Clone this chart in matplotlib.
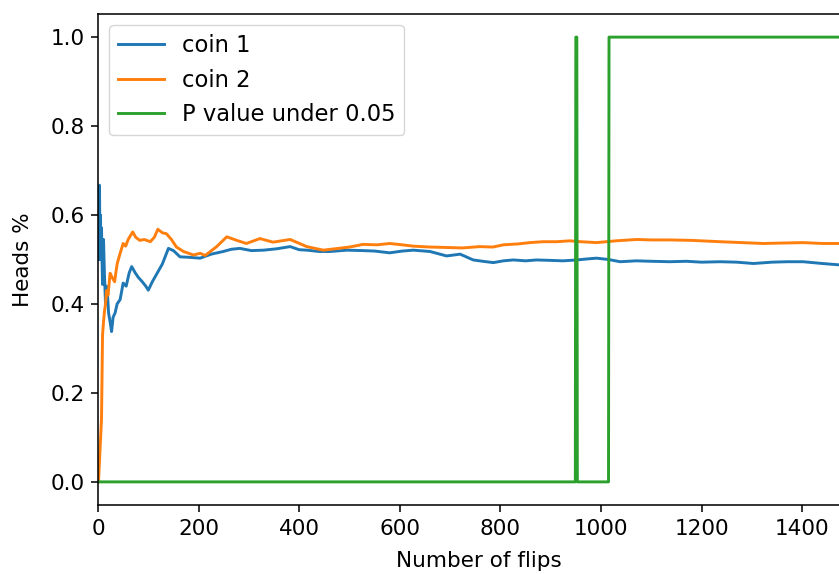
import matplotlib
matplotlib.use('Agg')
import matplotlib.pyplot as plt

# running share of heads
coin1_flips = [2, 3, 4, 5, 6, 7, 8, 9, 10, 11, 12, 13, 15, 17, 19, 21, 24, 27, 30, 34,
               38, 44, 50, 56, 62, 67, 74, 80, 88, 95, 100, 108, 118, 128, 140, 150,
               163, 180, 203, 225, 249, 265, 282, 305, 329, 355, 382, 400, 415, 440,
               461, 495, 527, 550, 580, 605, 627, 660, 693, 720, 746, 765, 786, 806,
               826, 850, 872, 900, 925, 952, 970, 991, 1015, 1038, 1070, 1100, 1137,
               1170, 1200, 1237, 1270, 1303, 1340, 1370, 1402, 1440, 1473, 1500]
coin1_heads = [0.50, 0.667, 0.50, 0.60, 0.50, 0.571, 0.50, 0.444, 0.50, 0.545, 0.50,
               0.46, 0.40, 0.44, 0.42, 0.38, 0.36, 0.338, 0.37, 0.38, 0.40, 0.41,
               0.447, 0.44, 0.47, 0.484, 0.47, 0.46, 0.45, 0.44, 0.431, 0.45, 0.47,
               0.49, 0.525, 0.52, 0.506, 0.505, 0.503, 0.512, 0.518, 0.523, 0.525,
               0.52, 0.521, 0.524, 0.529, 0.522, 0.521, 0.518, 0.518, 0.521, 0.520,
               0.519, 0.515, 0.519, 0.521, 0.518, 0.508, 0.512, 0.499, 0.496, 0.493,
               0.497, 0.499, 0.497, 0.499, 0.498, 0.497, 0.499, 0.501, 0.503, 0.500,
               0.495, 0.497, 0.496, 0.495, 0.496, 0.494, 0.495, 0.494, 0.491, 0.494,
               0.495, 0.495, 0.491, 0.488, 0.487]

coin2_flips = [1, 7, 9, 11, 13, 15, 17, 20, 24, 28, 33, 38, 44, 50, 55, 60, 69, 75, 83,
               92, 104, 112, 119, 128, 136, 146, 156, 170, 190, 203, 213, 236, 256,
               276, 295, 322, 348, 382, 415, 448, 478, 500, 527, 555, 580, 605, 627,
               660, 693, 725, 759, 785, 806, 835, 859, 885, 912, 938, 960, 991, 1030,
               1071, 1100, 1137, 1180, 1237, 1280, 1323, 1360, 1402, 1440, 1473, 1500]
coin2_heads = [0.0, 0.143, 0.33, 0.36, 0.385, 0.40, 0.43, 0.42, 0.469, 0.46, 0.45,
               0.49, 0.514, 0.536, 0.53, 0.545, 0.562, 0.55, 0.543, 0.545, 0.540,
               0.55, 0.568, 0.56, 0.558, 0.545, 0.528, 0.518, 0.51, 0.514, 0.509,
               0.529, 0.551, 0.543, 0.536, 0.547, 0.539, 0.545, 0.529, 0.521, 0.525,
               0.528, 0.534, 0.533, 0.536, 0.533, 0.530, 0.528, 0.527, 0.526, 0.529,
               0.528, 0.533, 0.535, 0.538, 0.540, 0.540, 0.542, 0.540, 0.538, 0.542,
               0.545, 0.544, 0.544, 0.543, 0.540, 0.538, 0.536, 0.537, 0.538, 0.536,
               0.536, 0.535]

# 1 where the p value is under 0.05
p_flips = [0, 949, 950, 952, 953, 1015, 1016, 1500]
p_under = [0, 0, 1, 1, 0, 0, 1, 1]

s = 1.4  # picture is an upscaled notebook figure
plt.rcParams.update({
    'font.size': 15.5,
    'lines.linewidth': 1.5 * s,
    'axes.linewidth': 0.8 * s,
    'xtick.major.size': 3.5 * s,
    'ytick.major.size': 3.5 * s,
    'xtick.major.width': 0.8 * s,
    'ytick.major.width': 0.8 * s,
    'xtick.major.pad': 3.5 * s,
    'ytick.major.pad': 3.5 * s,
})

fig = plt.figure(figsize=(8.39, 5.74), dpi=100)
ax = fig.add_axes([98 / 839, 69 / 574, 762 / 839, 491 / 574])

ax.plot(coin1_flips, coin1_heads, label='coin 1')
ax.plot(coin2_flips, coin2_heads, label='coin 2')
ax.plot(p_flips, p_under, label='P value under 0.05')

ax.set_xlim(0, 1515)
ax.set_ylim(-0.052, 1.052)
ax.set_xticks(range(0, 1401, 200))
ax.set_xlabel('Number of flips', labelpad=9)
ax.set_ylabel('Heads %', labelpad=12)
ax.legend(loc='upper left', fontsize=16.3)

fig.savefig('out.png', dpi=100)
